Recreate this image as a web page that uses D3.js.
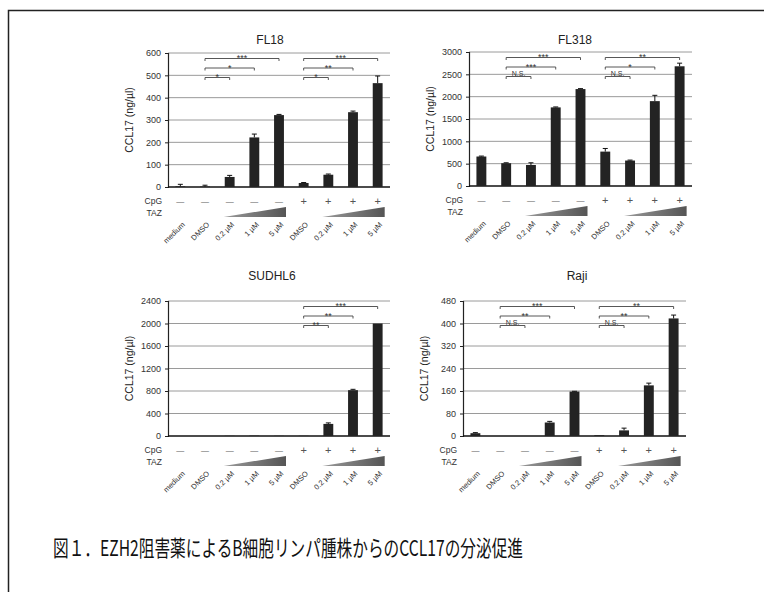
<!DOCTYPE html>
<html>
<head>
<meta charset="utf-8">
<script src="https://cdn.jsdelivr.net/npm/d3@7"></script>
<style>
  body { margin: 0; background: #fff; }
  text { font-family: "Liberation Sans", Arial, sans-serif; }
</style>
</head>
<body>
<div id="canvas"></div>
<script>
(function(){

    // conditions along the x axis (same for all four panels)
    var conditions = ["medium","DMSO","0.2 µM","1 µM","5 µM","DMSO","0.2 µM","1 µM","5 µM"];
    var cpgMarks   = ["—","—","—","—","—","+","+","+","+"];

    // FL18
    var fl18Values = [3, 2, 45, 222, 322, 18, 55, 335, 465];
    var fl18Errors = [9, 6, 7, 15, 3, 2, 3, 5, 32];
    var fl18Ticks  = [0, 100, 200, 300, 400, 500, 600];
    var fl18Sig = [
        {from:1, to:4, level:0, label:"***"},
        {from:1, to:3, level:1, label:"*"},
        {from:1, to:2, level:2, label:"*"},
        {from:5, to:8, level:0, label:"***"},
        {from:5, to:7, level:1, label:"**"},
        {from:5, to:6, level:2, label:"*"}
    ];

    // FL318
    var fl318Values = [660, 510, 470, 1760, 2170, 770, 570, 1900, 2680];
    var fl318Errors = [10, 10, 50, 10, 10, 70, 10, 130, 70];
    var fl318Ticks  = [0, 500, 1000, 1500, 2000, 2500, 3000];
    var fl318Sig = [
        {from:1, to:4, level:0, label:"***"},
        {from:1, to:3, level:1, label:"***"},
        {from:1, to:2, level:2, label:"N.S."},
        {from:5, to:8, level:0, label:"**"},
        {from:5, to:7, level:1, label:"*"},
        {from:5, to:6, level:2, label:"N.S."}
    ];

    // SUDHL6
    var sudValues = [0, 0, 3, 6, 3, 3, 215, 815, 2000];
    var sudErrors = [0, 0, 0, 0, 0, 0, 18, 15, 0];
    var sudTicks  = [0, 400, 800, 1200, 1600, 2000, 2400];
    var sudSig = [
        {from:5, to:8, level:0, label:"***"},
        {from:5, to:7, level:1, label:"**"},
        {from:5, to:6, level:2, label:"**"}
    ];

    // Raji
    var rajiValues = [10, 0, 0, 48, 158, 3, 20, 180, 418];
    var rajiErrors = [2, 0, 0, 4, 1, 0, 8, 8, 12];
    var rajiTicks  = [0, 80, 160, 240, 320, 400, 480];
    var rajiSig = [
        {from:1, to:4, level:0, label:"***"},
        {from:1, to:3, level:1, label:"**"},
        {from:1, to:2, level:2, label:"N.S."},
        {from:5, to:8, level:0, label:"**"},
        {from:5, to:7, level:1, label:"**"},
        {from:5, to:6, level:2, label:"N.S."}
    ];

    var caption = "図１．EZH2阻害薬によるB細胞リンパ腫株からのCCL17の分泌促進";

    var svg = d3.select("#canvas")
                .append("svg")
                .attr("width", 764)
                .attr("height", 592);

    // outer frame (right and bottom edges fall outside the picture)
    svg.append("rect")
       .attr("x", 8.5).attr("y", 10.5)
       .attr("width", 800).attr("height", 700)
       .attr("fill", "none")
       .attr("stroke", "#222")
       .attr("stroke-width", 1.5);

    var defs = svg.append("defs");
    var grad = defs.append("linearGradient").attr("id", "wedge");
    grad.append("stop").attr("offset", "0%").attr("stop-color", "#9a9a9a");
    grad.append("stop").attr("offset", "100%").attr("stop-color", "#555");

    var panels = [
        {title:"FL18",   values:fl18Values,  errors:fl18Errors,  ticks:fl18Ticks,  sig:fl18Sig,
         x0:168, x1:390, yTop:53,  yBot:187, titleX:270, titleY:44},
        {title:"FL318",  values:fl318Values, errors:fl318Errors, ticks:fl318Ticks, sig:fl318Sig,
         x0:469, x1:692, yTop:52,  yBot:186, titleX:575, titleY:44},
        {title:"SUDHL6", values:sudValues,   errors:sudErrors,   ticks:sudTicks,   sig:sudSig,
         x0:168, x1:390, yTop:301, yBot:436, titleX:272, titleY:280},
        {title:"Raji",   values:rajiValues,  errors:rajiErrors,  ticks:rajiTicks,  sig:rajiSig,
         x0:463, x1:686, yTop:301, yBot:436, titleX:577, titleY:280}
    ];

    for (var p of panels) drawPanel(p);

    function drawPanel(cfg){
        var g = svg.append("g");

        var x = d3.scaleBand()
                  .domain(d3.range(conditions.length))
                  .range([cfg.x0, cfg.x1])
                  .paddingInner(0.6)
                  .paddingOuter(0.3);
        var xc = function(i){ return x(i) + x.bandwidth() / 2; };

        var y = d3.scaleLinear()
                  .domain([0, d3.max(cfg.ticks)])
                  .range([cfg.yBot, cfg.yTop]);

        // title
        g.append("text")
         .attr("x", cfg.titleX).attr("y", cfg.titleY)
         .attr("text-anchor", "middle")
         .attr("font-size", 12)
         .attr("fill", "#222")
         .text(cfg.title);

        // gridlines
        g.selectAll(".grid")
         .data(cfg.ticks.filter(function(t){ return t > 0; }))
         .enter().append("line")
         .attr("x1", cfg.x0).attr("x2", cfg.x1)
         .attr("y1", function(d){ return y(d); })
         .attr("y2", function(d){ return y(d); })
         .attr("stroke", "#9a9a9a")
         .attr("stroke-width", 1);

        // y axis
        var axis = g.append("g")
                    .attr("transform", "translate(" + cfg.x0 + ",0)")
                    .call(d3.axisLeft(y).tickValues(cfg.ticks).tickFormat(d3.format("d"))
                            .tickSize(3).tickPadding(4));
        axis.select(".domain").attr("stroke", "#222").attr("stroke-width", 1.2);
        axis.selectAll(".tick line").attr("stroke", "#222");
        axis.selectAll(".tick text")
            .attr("font-size", 9)
            .attr("fill", "#333")
            .attr("font-family", "Liberation Sans, Arial, sans-serif");

        // zero line
        g.append("line")
         .attr("x1", cfg.x0).attr("x2", cfg.x1)
         .attr("y1", y(0)).attr("y2", y(0))
         .attr("stroke", "#111")
         .attr("stroke-width", 1.5);

        // y label
        g.append("text")
         .attr("transform", "translate(" + (cfg.x0 - 35) + "," + ((cfg.yTop + cfg.yBot) / 2) + ") rotate(-90)")
         .attr("text-anchor", "middle")
         .attr("font-size", 10.5)
         .attr("fill", "#222")
         .text("CCL17 (ng/µl)");

        // bars
        g.selectAll(".bar")
         .data(cfg.values)
         .enter().append("rect")
         .attr("x", function(d, i){ return x(i); })
         .attr("y", function(d){ return y(d); })
         .attr("width", x.bandwidth())
         .attr("height", function(d){ return y(0) - y(d); })
         .attr("fill", "#232323");

        // error bars (upper only)
        cfg.values.forEach(function(v, i){
            var e = cfg.errors[i];
            if (e <= 0) return;
            g.append("line")
             .attr("x1", xc(i)).attr("x2", xc(i))
             .attr("y1", y(v)).attr("y2", y(v + e))
             .attr("stroke", "#111").attr("stroke-width", 1);
            g.append("line")
             .attr("x1", xc(i) - 2.5).attr("x2", xc(i) + 2.5)
             .attr("y1", y(v + e)).attr("y2", y(v + e))
             .attr("stroke", "#111").attr("stroke-width", 1);
        });

        // significance brackets
        cfg.sig.forEach(function(s){
            var by = cfg.yTop + 5.5 + s.level * 9.5;
            var xa = xc(s.from), xb = xc(s.to);
            g.append("path")
             .attr("d", "M" + xa + "," + (by + 2.5) + "V" + by + "H" + xb + "V" + (by + 2.5))
             .attr("fill", "none")
             .attr("stroke", "#444")
             .attr("stroke-width", 0.9);
            g.append("text")
             .attr("x", (xa + xb) / 2).attr("y", by - (s.label === "N.S." ? 0.5 : -2.5))
             .attr("text-anchor", "middle")
             .attr("font-size", s.label === "N.S." ? 7 : 9)
             .attr("fill", "#333")
             .text(s.label);
        });

        // CpG row
        var cpgY = cfg.yBot + 17;
        g.append("text")
         .attr("x", cfg.x0 - 6).attr("y", cpgY)
         .attr("text-anchor", "end")
         .attr("font-size", 8.5).attr("fill", "#333")
         .text("CpG");
        g.selectAll(".cpg")
         .data(cpgMarks)
         .enter().append("text")
         .attr("x", function(d, i){ return xc(i); })
         .attr("y", function(d){ return d === "+" ? cpgY + 1 : cpgY - 0.5; })
         .attr("text-anchor", "middle")
         .attr("font-size", function(d){ return d === "+" ? 11 : 8; })
         .attr("fill", "#555")
         .text(function(d){ return d; });

        // TAZ row with dose wedges
        var tazY = cfg.yBot + 29;
        g.append("text")
         .attr("x", cfg.x0 - 6).attr("y", tazY)
         .attr("text-anchor", "end")
         .attr("font-size", 8.5).attr("fill", "#333")
         .text("TAZ");
        [[2, 4], [6, 8]].forEach(function(r){
            var xa = xc(r[0]) - 6, xb = xc(r[1]) + 7;
            g.append("path")
             .attr("d", "M" + xa + "," + (tazY + 1) + "L" + xb + "," + (tazY + 1) + "L" + xb + "," + (tazY - 9) + "Z")
             .attr("fill", "url(#wedge)");
        });

        // rotated condition labels
        g.selectAll(".xl")
         .data(conditions)
         .enter().append("text")
         .attr("transform", function(d, i){
             return "translate(" + (xc(i) + 5) + "," + (cfg.yBot + 38) + ") rotate(-45)";
         })
         .attr("text-anchor", "end")
         .attr("font-size", 7.5)
         .attr("fill", "#333")
         .text(function(d){ return d; });
    }

    // caption
    svg.append("text")
       .attr("x", 53).attr("y", 556)
       .attr("font-size", 22)
       .attr("textLength", 470)
       .attr("lengthAdjust", "spacingAndGlyphs")
       .attr("fill", "#111")
       .style("font-family", "'Noto Sans CJK JP', sans-serif")
       .text(caption);

})();
</script>
</body>
</html>
